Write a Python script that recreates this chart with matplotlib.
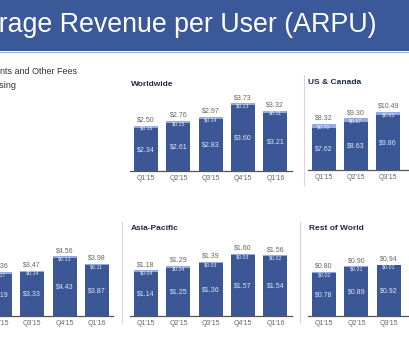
import matplotlib
matplotlib.use("Agg")
import matplotlib.pyplot as plt
from matplotlib.patches import Rectangle
from matplotlib.lines import Line2D

plt.rcParams['font.family'] = ['Liberation Sans', 'DejaVu Sans']

W, H = 410, 344

quarters = ["Q1'15", "Q2'15", "Q3'15", "Q4'15", "Q1'16"]

# ARPU split into advertising and payments/other fees
ww_ads = [2.34, 2.61, 2.83, 3.60, 3.21]
ww_pay = [0.16, 0.15, 0.14, 0.13, 0.11]
ww_total = [2.50, 2.76, 2.97, 3.73, 3.32]

us_ads = [7.62, 8.63, 9.86, 13.10, 11.42]
us_pay = [0.70, 0.67, 0.63, 0.60, 0.55]
us_total = [8.32, 9.30, 10.49, 13.70, 11.97]

eu_ads = [2.87, 3.19, 3.33, 4.43, 3.87]
eu_pay = [0.18, 0.17, 0.14, 0.13, 0.11]
eu_total = [3.05, 3.36, 3.47, 4.56, 3.98]

ap_ads = [1.14, 1.25, 1.36, 1.57, 1.54]
ap_pay = [0.04, 0.04, 0.03, 0.03, 0.02]
ap_total = [1.18, 1.29, 1.39, 1.60, 1.56]

row_ads = [0.78, 0.89, 0.92, 1.10, 0.99]
row_pay = [0.02, 0.01, 0.01, 0.02, 0.01]
row_total = [0.80, 0.90, 0.94, 1.12, 1.00]

DARK = '#3b5796'
LIGHT = '#93abe0'
HEADER = '#3b5998'

fig = plt.figure(figsize=(W / 100, H / 100), dpi=100)
fig.patch.set_facecolor('white')


def fx(x):
    return x / W


def fy(y):
    return 1 - y / H


# header band
fig.add_artist(Rectangle((0, fy(51)), 1, 51 / H, transform=fig.transFigure,
                         color=HEADER, lw=0))
fig.add_artist(Line2D([0, 1], [fy(51.5), fy(51.5)], color='#9fb0d6', lw=0.8))
fig.text(fx(377), fy(32.5), 'Average Revenue per User (ARPU)', color='white',
         fontsize=19.3, ha='right', va='baseline')

# legend text (squares are off the left edge)
fig.text(fx(-28), fy(72), 'Payments and Other Fees', fontsize=6.5,
         color='#333333', ha='left', va='center')
fig.text(fx(-28), fy(85), 'Advertising', fontsize=6.5,
         color='#333333', ha='left', va='center')

panels = [
    ('Worldwide', 130, 171, 18.2, ww_ads, ww_pay, ww_total),
    ('US & Canada', 307.5, 170, 5.55, us_ads, us_pay, us_total),
    ('Europe', -48.5, 316, 13.1, eu_ads, eu_pay, eu_total),
    ('Asia-Pacific', 130, 316, 38.8, ap_ads, ap_pay, ap_total),
    ('Rest of World', 308, 316, 55.0, row_ads, row_pay, row_total),
]

AX_W = 161.5
AX_H = 95

for title, left, base, scale, ads, pay, total in panels:
    ax = fig.add_axes([fx(left), fy(base), AX_W / W, AX_H / H])
    x = range(len(quarters))
    ax.bar(x, ads, width=0.74, color=DARK, lw=0)
    ax.bar(x, pay, bottom=ads, width=0.74, color=LIGHT, lw=0)
    ax.set_xlim(-0.5, 4.5)
    ax.set_ylim(0, AX_H / scale)
    for i in x:
        ax.text(i, ads[i] / 2, f'${ads[i]:.2f}', ha='center', va='center',
                fontsize=5, color='#dfe5f5')
        ax.annotate(f'${total[i]:.2f}', (i, total[i]), xytext=(0, 1.5),
                    textcoords='offset points', ha='center', va='bottom',
                    fontsize=5, color='#666666')
        ax.annotate(f'${pay[i]:.2f}', (i, total[i]), xytext=(0, -2.0),
                    textcoords='offset points', ha='center', va='center',
                    fontsize=3.8, color='#e8ecf8')
    for s in ['top', 'left', 'right']:
        ax.spines[s].set_visible(False)
    ax.spines['bottom'].set_color('#555555')
    ax.spines['bottom'].set_linewidth(0.9)
    ax.set_yticks([])
    ax.set_xticks(list(x))
    ax.set_xticklabels(quarters)
    ax.tick_params(axis='x', length=0, pad=3, labelsize=5, labelcolor='#666666')
    ax.patch.set_alpha(0)
    fig.text(fx(left + 1), fy(base - 87), title, fontsize=6, fontweight='bold',
             color='#1f2a44', ha='left', va='center')

# thin separators between panels
for x0, y0, y1 in [(304, 75, 185), (122, 222, 322), (300, 222, 322)]:
    fig.add_artist(Line2D([fx(x0), fx(x0)], [fy(y0), fy(y1)],
                          color='#d5d5d5', lw=0.8))

fig.savefig('out.png', dpi=100)
